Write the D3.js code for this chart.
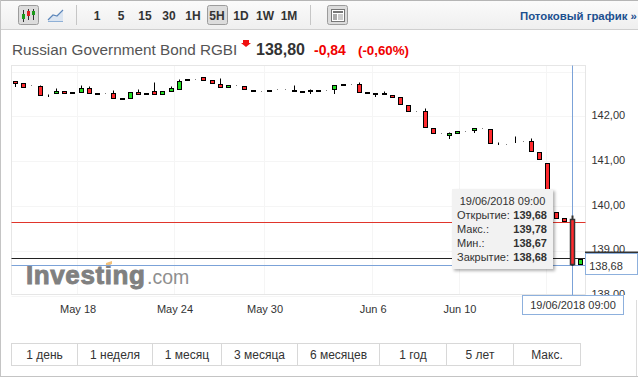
<!DOCTYPE html>
<html>
<head>
<meta charset="utf-8">
<script src="https://d3js.org/d3.v7.min.js"></script>
<style>
body { margin: 0; background: #fff; }
svg { display: block; font-family: "Liberation Sans", Arial, sans-serif; }
</style>
</head>
<body>
<div id="chart"></div>
<script>
// candle values, oldest first
const opens = [142.77,142.72,142.68,142.65,142.44,142.51,142.54,142.52,142.53,142.61,142.50,142.51,142.50,142.38,142.38,142.52,142.47,142.54,142.49,142.55,142.60,142.81,142.82,142.87,142.79,142.70,142.64,142.68,142.65,142.58,142.55,142.55,142.60,142.60,142.58,142.54,142.57,142.56,142.58,142.60,142.70,142.71,142.70,142.52,142.50,142.50,142.45,142.42,142.23,142.10,142.11,141.71,141.61,141.56,141.62,141.65,141.67,141.71,141.69,141.37,141.37,141.41,141.42,141.42,141.18,140.95,139.84,139.71,139.68,138.68];
const closes = [142.73,142.64,142.68,142.45,142.44,142.54,142.51,142.51,142.61,142.51,142.49,142.51,142.40,142.37,142.52,142.47,142.50,142.49,142.54,142.61,142.78,142.80,142.82,142.80,142.73,142.64,142.67,142.68,142.60,142.55,142.55,142.58,142.60,142.60,142.55,142.53,142.55,142.55,142.57,142.67,142.69,142.71,142.53,142.51,142.49,142.47,142.42,142.25,142.11,142.10,141.74,141.62,141.61,141.60,141.65,141.65,141.71,141.71,141.38,141.37,141.37,141.40,141.42,141.20,141.02,139.86,139.72,139.65,138.68,138.80];
const highs = [142.77,142.72,142.68,142.69,142.48,142.62,142.54,142.52,142.69,142.65,142.50,142.51,142.56,142.38,142.52,142.60,142.50,142.75,142.54,142.65,142.82,142.81,142.82,142.87,142.79,142.83,142.67,142.68,142.65,142.58,142.55,142.58,142.60,142.60,142.69,142.54,142.60,142.56,142.58,142.67,142.70,142.71,142.75,142.52,142.50,142.54,142.45,142.42,142.23,142.10,142.16,141.71,141.61,141.63,141.65,141.65,141.71,141.71,141.69,141.40,141.37,141.55,141.42,141.50,141.18,140.95,139.84,139.71,139.78,138.80];
const lows = [142.65,142.64,142.68,142.45,142.43,142.51,142.51,142.51,142.53,142.51,142.49,142.51,142.40,142.37,142.38,142.47,142.47,142.49,142.49,142.55,142.60,142.80,142.82,142.80,142.73,142.64,142.64,142.68,142.60,142.55,142.55,142.55,142.60,142.60,142.55,142.53,142.51,142.55,142.57,142.51,142.69,142.71,142.53,142.51,142.43,142.47,142.42,142.25,142.11,142.10,141.74,141.62,141.61,141.49,141.62,141.65,141.63,141.71,141.38,141.37,141.37,141.40,141.42,141.20,141.02,139.86,139.72,139.65,138.67,138.68];

const priceTicks = [142, 141, 140, 139, 138];
const dateLabels = ['May 18', 'May 24', 'May 30', 'Jun 6', 'Jun 10', ''];
const dateAt = [7.57, 19.4, 30.4, 43.6, 54.2, 64.8];

const lastPrice = 138.82;
const prevClose = 139.63;
const hoverIndex = 68;
const hoverDate = '19/06/2018 09:00';
const hoverLabels = ['Открытие:', 'Макс.:', 'Мин.:', 'Закрытие:'];
const hoverValues = ['139,68', '139,78', '138,67', '138,68'];

const intervals = ['1', '5', '15', '30', '1H', '5H', '1D', '1W', '1M'];
const ranges = ['1 день', '1 неделя', '1 месяц', '3 месяца', '6 месяцев', '1 год', '5 лет', 'Макс.'];
const rangeEdges = [11.5, 77.5, 152.5, 221.5, 297.5, 379.5, 446.5, 513.5, 580.5];

const width = 638;
const height = 377;
const plot = {left: 11.5, right: 585.5, top: 65.5, bottom: 294.5};

const svg = d3.select('#chart').append('svg')
    .attr('width', width)
    .attr('height', height);

const defs = svg.append('defs');
let grad = defs.append('linearGradient').attr('id', 'bar').attr('x2', 0).attr('y2', 1);
grad.append('stop').attr('offset', 0).attr('stop-color', '#fbfbfb');
grad.append('stop').attr('offset', 1).attr('stop-color', '#efefef');
let blur = defs.append('filter').attr('id', 'shadow').attr('x', '-10%').attr('y', '-10%').attr('width', '125%').attr('height', '125%');
blur.append('feDropShadow').attr('dx', 2).attr('dy', 2).attr('stdDeviation', 1.5).attr('flood-color', '#000').attr('flood-opacity', 0.3);

const x = d3.scaleLinear().domain([0, 69]).range([15.6, 580.6]);
const y = d3.scaleLinear().domain([142, 138]).range([116, 295.2]);
const crisp = v => Math.round(v - 0.5) + 0.5;
const cx = i => Math.floor(x(i)) + 0.5;

function hline(g, yy, x1, x2, color, w) {
    return g.append('line').attr('x1', x1).attr('x2', x2).attr('y1', yy).attr('y2', yy)
        .attr('stroke', color).attr('stroke-width', w || 1);
}
function vline(g, xx, y1, y2, color, w) {
    return g.append('line').attr('x1', xx).attr('x2', xx).attr('y1', y1).attr('y2', y2)
        .attr('stroke', color).attr('stroke-width', w || 1);
}
function label(g, xx, yy, str, size, color, anchor, weight) {
    return g.append('text').attr('x', xx).attr('y', yy).text(str)
        .style('font-size', size + 'px').style('fill', color)
        .style('text-anchor', anchor || 'start')
        .style('font-weight', weight || 'normal');
}

// toolbar
const bar = svg.append('g');
bar.append('rect').attr('x', 0).attr('y', 0).attr('width', width).attr('height', 29).attr('fill', 'url(#bar)');
hline(bar, 0.5, 0, width, '#b5b5b5');
hline(bar, 29.5, 0, width, '#cfcfcf');
vline(bar, 0.5, 0, 376, '#c4c4c4');
hline(bar, 376.5, 0, width, '#c4c4c4');
vline(bar, 636.5, 300, 376, '#dcdcdc');
vline(bar, 76.5, 5, 25, '#c6c6c6');
vline(bar, 310.5, 5, 25, '#c6c6c6');

function button(xx, w) {
    bar.append('rect').attr('x', xx).attr('y', 5.5).attr('width', w).attr('height', 19).attr('rx', 2)
        .attr('fill', '#dcdcdc').attr('stroke', '#9c9c9c');
}
button(18.5, 20);
button(207.5, 20);
button(327.5, 20);

// candle icon
[[24, 10, 22, '#1a9a1a', 14, 19], [29, 9, 20, '#e02020', 11, 16], [34, 9, 20, '#1a9a1a', 11, 15]].forEach(d => {
    vline(bar, d[0] - 0.5, d[1], d[2], '#333');
    bar.append('rect').attr('x', d[0] - 2).attr('y', d[4]).attr('width', 3).attr('height', d[5] - d[4]).attr('fill', d[3]);
});

// line icon
bar.append('path').attr('d', 'M48 21L53 16L57 17L63 11V22H48Z').attr('fill', '#dbe5f1');
bar.append('path').attr('d', 'M48 20L53 15L57 16L63 10').attr('fill', 'none').attr('stroke', '#5b86bb').attr('stroke-width', 1.2);
hline(bar, 21.5, 48, 63, '#8fb0d6');

// layout icon
bar.append('rect').attr('x', 331.5).attr('y', 9.5).attr('width', 13).attr('height', 12).attr('fill', '#fff').attr('stroke', '#777');
bar.append('rect').attr('x', 333).attr('y', 11).attr('width', 10).attr('height', 2).attr('fill', '#777');
bar.append('rect').attr('x', 333).attr('y', 14).attr('width', 4).attr('height', 6).attr('fill', '#aaa');
bar.append('rect').attr('x', 338).attr('y', 14).attr('width', 5).attr('height', 6).attr('fill', '#ccc');

const intervalX = d3.scalePoint().domain(intervals).range([97, 289]);
intervals.forEach(d => label(bar, intervalX(d), 20, d, 12, '#333', 'middle', 'bold'));
label(bar, 520, 20, 'Потоковый график »', 11.4, '#1c4f8f', 'start', 'bold');

// title row
label(svg, 12, 55, 'Russian Government Bond RGBI', 15.3, '#555');
svg.append('path').attr('d', 'M243 40H249V43H251L246 47L241 43H243Z').attr('fill', '#f01010');
label(svg, 256, 55, '138,80', 16, '#333', 'start', 'bold');
label(svg, 314, 55, '-0,84', 14, '#f00000', 'start', 'bold');
label(svg, 358, 55, '(-0,60%)', 13.3, '#f00000', 'start', 'bold');

// plot frame and grid
const grid = svg.append('g');
priceTicks.concat([143]).forEach(d => hline(grid, Math.ceil(y(d)) + 0.5, plot.left, plot.right, '#f5f5f5'));
dateAt.forEach(d => vline(grid, crisp(x(d)), plot.top, plot.bottom, '#f5f5f5'));
grid.append('rect').attr('x', plot.left).attr('y', plot.top)
    .attr('width', plot.right - plot.left).attr('height', plot.bottom - plot.top)
    .attr('fill', 'none').attr('stroke', '#e6e6e6');

// y axis
const yAxis = d3.axisRight(y).tickValues(priceTicks).tickSize(0).tickPadding(7)
    .tickFormat(d => d3.format('.2f')(d).replace('.', ','));
const yG = svg.append('g').attr('transform', `translate(${plot.right - 1}, -1)`).call(yAxis);
yG.select('.domain').remove();
yG.selectAll('text').style('font-size', '11px').style('font-family', 'inherit').style('fill', '#333');

// watermark
label(svg, 26, 284, 'Investing', 26, '#808080', 'start', 'bold')
    .style('letter-spacing', '0.6px').style('stroke', '#808080').style('stroke-width', 0.9);
label(svg, 147, 284, '.com', 19.5, '#8f8f8f');
svg.append('path').attr('d', 'M106 263L112 261V264L106 266Z').attr('fill', '#f2c078');

// reference lines
const lines = svg.append('g');
hline(lines, crisp(y(prevClose)), plot.left, plot.right, '#e0352b');
hline(lines, crisp(y(lastPrice)), plot.left, plot.right, '#222');

// crosshair, under the candles
const cross = svg.append('g');
vline(cross, cx(hoverIndex), plot.top, 295, '#7ba2d8');
hline(cross, Math.ceil(y(closes[hoverIndex])) + 0.5, plot.left, plot.right, '#7ba2d8');

// candles
const candles = svg.append('g');
d3.range(opens.length).forEach(i => {
    const up = closes[i] > opens[i];
    const flat = Math.abs(closes[i] - opens[i]) < 0.03;
    const top = crisp(y(Math.max(opens[i], closes[i])));
    const bot = crisp(y(Math.min(opens[i], closes[i])));
    const focus = i === hoverIndex;
    vline(candles, cx(i), crisp(y(highs[i])), crisp(y(lows[i])) + 0.5, focus ? '#333' : '#000', focus ? 2 : 1);
    candles.append('rect')
        .attr('x', cx(i) - 2).attr('width', 4)
        .attr('y', top).attr('height', bot - top)
        .attr('fill', flat ? '#000' : (up ? '#22dd22' : '#ff2a2e'))
        .attr('stroke', focus ? '#333' : '#000')
        .attr('stroke-width', focus ? 1.5 : 1);
});

// x axis labels sit on a white strip that also cuts the lowest price label
svg.append('rect').attr('x', 586).attr('y', 295).attr('width', 50).attr('height', 25).attr('fill', '#fff');
const xAxis = d3.axisBottom(x).tickValues(dateAt).tickSize(0).tickPadding(0)
    .tickFormat((d, i) => dateLabels[i]);
const xG = svg.append('g').attr('transform', 'translate(0, 305)').call(xAxis);
xG.select('.domain').remove();
xG.selectAll('text').style('font-size', '11px').style('font-family', 'inherit').style('fill', '#333');

// tooltip
const tip = svg.append('g');
tip.append('rect').attr('x', 452).attr('y', 189).attr('width', 101).attr('height', 80)
    .attr('fill', '#f2f2f2').attr('filter', 'url(#shadow)');
label(tip, 502.5, 205, hoverDate, 11, '#333', 'middle');
hoverLabels.forEach((d, i) => {
    label(tip, 457, 219 + i * 14, d, 11, '#333');
    label(tip, 547, 219 + i * 14, hoverValues[i], 11, '#333', 'end', 'bold');
});

// price and date boxes
hline(svg, 252.5, 585, width, '#333', 2);
svg.append('rect').attr('x', 585.5).attr('y', 253.5).attr('width', 52).attr('height', 21)
    .attr('fill', '#fff').attr('stroke', '#8db0dd');
label(svg, 606, 270, hoverValues[3], 11, '#333', 'middle');
svg.append('rect').attr('x', 522.5).attr('y', 295.5).attr('width', 101).attr('height', 19)
    .attr('fill', '#fff').attr('stroke', '#8db0dd');
label(svg, 573, 309, hoverDate, 11, '#333', 'middle');

// range buttons
const rangeBar = svg.append('g');
rangeBar.append('rect').attr('x', 11.5).attr('y', 343.5).attr('width', 569).attr('height', 22)
    .attr('fill', '#fff').attr('stroke', '#d8d8d8');
ranges.forEach((d, i) => {
    if (i > 0) vline(rangeBar, rangeEdges[i], 343.5, 365.5, '#d8d8d8');
    label(rangeBar, (rangeEdges[i] + rangeEdges[i + 1]) / 2, 359, d, 12, '#333', 'middle');
});
</script>
</body>
</html>
